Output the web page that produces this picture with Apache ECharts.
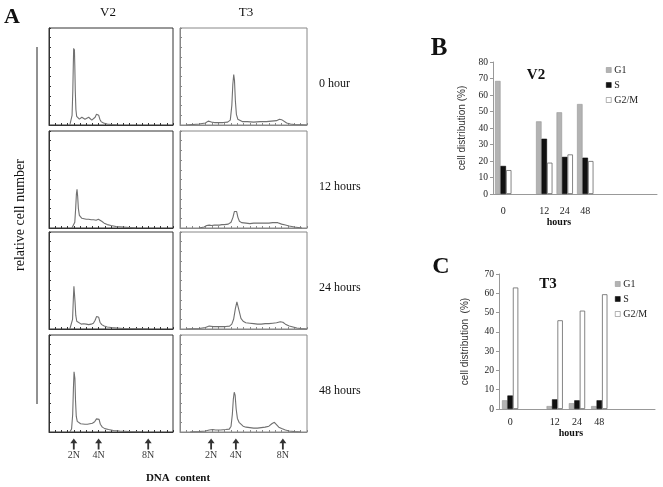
<!DOCTYPE html>
<html><head><meta charset="utf-8">
<script src="https://cdn.jsdelivr.net/npm/echarts@6/dist/echarts.min.js"></script>
<style>html,body{margin:0;padding:0;background:#fff}#c{width:663px;height:487px}</style>
</head><body><div id="c"></div>
<script>
// ---------- Panel A : DNA histograms (x = channel 0-1000, y = % of panel height) ----------
const cellLines = ['V2', 'T3'];
const timeLabels = ['0 hour', '12 hours', '24 hours', '48 hours'];

const v2_0h = [[168,0],[178,2],[186,10],[192,35],[196,62],[199,79],[202,74],[205,78],[208,62],[212,35],[217,16],[223,9],[232,7],[245,6],[255,7],[265,8],[275,7],[290,6],[305,8],[320,8],[335,6],[345,5],[360,6],[372,8],[383,11],[393,12],[401,10],[410,6],[420,3.5],[440,2],[470,1],[500,0.5],[550,0]];
const v2_12h = [[185,0],[198,1],[208,6],[215,20],[221,35],[226,40],[231,33],[237,20],[245,13],[255,11],[265,10],[280,9.5],[300,9],[320,9],[340,8.5],[360,8.5],[380,8],[398,9],[412,9.5],[425,7],[445,5],[470,3.5],[500,2.5],[540,1.5],[600,1],[650,0.5],[700,0]];
const v2_24h = [[168,0],[182,2],[190,10],[196,30],[201,44],[205,42],[210,28],[216,14],[224,8],[238,6],[260,5],[280,5.5],[300,5],[320,4.5],[340,5],[358,6],[372,9],[384,13],[393,14.5],[401,12],[411,7],[425,4.5],[445,3],[470,2],[500,1.5],[550,1],[600,0.5],[700,0.3],[800,0]];
const v2_48h = [[168,0],[182,3],[191,18],[197,45],[202,62],[205,64],[209,55],[214,32],[220,16],[228,11],[240,9],[255,8.5],[270,8],[290,8],[310,8],[330,8.5],[350,9],[368,10.5],[383,13.5],[395,15],[404,13],[414,8],[430,5],[450,3.5],[480,2.5],[520,1.5],[570,1],[650,0.5],[750,0]];

const t3_0h = [[50,0],[150,1],[200,2],[222,4],[235,5.5],[248,3],[270,2.5],[300,2.5],[340,2.5],[375,3],[396,5],[408,20],[416,42],[423,52],[429,46],[436,25],[444,11],[455,6],[470,4],[490,3.5],[530,3.5],[580,3],[630,3.5],[680,3.5],[720,4],[760,4.5],[783,6],[800,5.5],[815,3.5],[840,2],[870,1],[900,0.5],[950,0.3],[1000,0]];
const t3_12h = [[150,0],[190,1],[210,2.5],[230,3],[250,2.5],[270,3],[290,3],[310,3],[330,3.5],[350,3.5],[380,4],[402,6],[417,11],[428,17],[437,19],[446,17],[456,11],[468,7],[485,5.5],[520,5],[550,4.5],[580,5],[610,5],[640,5],[670,5],[700,5],[730,5.5],[770,5.5],[800,4],[830,3],[860,2],[900,1],[930,0.5],[960,0]];
const t3_24h = [[50,0],[150,0.5],[200,1.5],[230,3],[260,2.5],[290,2.5],[320,2.5],[360,2.5],[390,3],[408,5],[422,10],[436,21],[448,28],[457,26],[467,18],[480,11],[497,8],[518,6.5],[550,6],[580,5.5],[610,5],[640,5],[670,5.5],[700,5.5],[730,6],[760,6.5],[790,7.5],[810,7],[830,5],[860,3],[890,2],[920,1],[950,0.5],[1000,0]];
const t3_48h = [[80,0],[150,0.5],[200,1],[230,2],[245,3.5],[258,2.5],[280,2],[320,2],[360,2.5],[388,3],[402,6],[412,18],[420,34],[427,41],[434,38],[442,24],[452,14],[465,10],[480,8],[497,6],[520,5],[550,4.5],[580,4],[610,4],[640,4.5],[670,5],[700,6],[723,8.5],[743,10],[758,8.5],[778,5],[800,3.5],[830,2],[860,1],[900,0.5],[950,0]];

const ploidyLabels = ['2N', '4N', '8N'];
const ploidyV2 = [200, 400, 800];
const ploidyT3 = [245, 440, 810];

// ---------- Panels B and C : cell-cycle distribution ----------
const phases = ['G1', 'S', 'G2/M'];
const hourTicks = ['0', '12', '24', '48'];
const hourSlotsB = ['0', '', '12', '24', '48', '', '', ''];
const hourSlotsC = ['0', '', '12', '24', '48', '', ''];
const v2G1 = [68.5, 44, 49.5, 54.5];
const v2S = [17, 33.5, 22.5, 22];
const v2G2M = [14.5, 19, 24, 20];
const t3G1 = [4.5, 1.5, 3, 1.5];
const t3S = [7, 5, 4.5, 4.5];
const t3G2M = [63, 46, 51, 59.5];

// ---------- build ----------
const SERIF = 'Liberation Serif';
const SANS = 'Liberation Sans';
const chart = echarts.init(document.getElementById('c'), null, {renderer: 'canvas'});

const grid = [], xAxis = [], yAxis = [], series = [];
const histData = [[v2_0h, v2_12h, v2_24h, v2_48h], [t3_0h, t3_12h, t3_24h, t3_48h]];
const colLeft = [49, 180], colW = [124, 127];
const rowTop = [28, 131, 232, 335], rowH = 97;
const colBorder = ['#333', '#888'];

for (let c = 0; c < 2; c++) {
  for (let r = 0; r < 4; r++) {
    const gi = grid.length;
    const col = colBorder[c];
    grid.push({left: colLeft[c], top: rowTop[r], width: colW[c], height: rowH, show: true, borderColor: col, borderWidth: 1, backgroundColor: 'transparent'});
    xAxis.push({gridIndex: gi, type: 'value', min: 0, max: 1000, interval: 50,
      axisLine: {show: true, lineStyle: {color: col, width: 1}},
      axisTick: {show: true, inside: true, length: 2, lineStyle: {color: col}},
      axisLabel: {show: false}, splitLine: {show: false}});
    yAxis.push({gridIndex: gi, type: 'value', min: 0, max: 100, interval: 10,
      axisLine: {show: true, lineStyle: {color: col, width: 1}},
      axisTick: {show: true, inside: true, length: 2, lineStyle: {color: col}},
      axisLabel: {show: false}, splitLine: {show: false}});
    series.push({type: 'line', xAxisIndex: gi, yAxisIndex: gi, data: histData[c][r],
      symbol: 'none', showSymbol: false, silent: true,
      lineStyle: {color: '#707070', width: 1.1}});
  }
}

// ploidy arrows
const arrowPath = 'path://M5,0 L10,7 L6.3,7 L6.3,16 L3.7,16 L3.7,7 L0,7 Z';
[ploidyV2, ploidyT3].forEach((pos, c) => {
  const gi = grid.length;
  grid.push({left: colLeft[c], top: 437, width: colW[c], height: 14});
  xAxis.push({gridIndex: gi, type: 'value', min: 0, max: 1000, show: false});
  yAxis.push({gridIndex: gi, type: 'value', min: 0, max: 1, show: false});
  series.push({type: 'scatter', xAxisIndex: gi, yAxisIndex: gi, silent: true,
    symbol: arrowPath, symbolSize: [7, 11],
    itemStyle: {color: '#000'},
    label: {show: true, position: 'bottom', distance: 1, formatter: '{b}',
      fontFamily: SERIF, fontSize: 10, color: '#000'},
    data: pos.map((x, i) => ({name: ploidyLabels[i], value: [x, 0.5]}))});
});

// bar charts
const phaseStyles = [
  {color: '#b3b3b3', borderColor: '#8a8a8a', borderWidth: 0.5},
  {color: '#111111', borderColor: '#000', borderWidth: 0.5},
  {color: '#ffffff', borderColor: '#666', borderWidth: 0.8}
];
function slotData(slots, vals) {
  const out = slots.map(() => '-');
  hourTicks.forEach((h, i) => { out[slots.indexOf(h)] = vals[i]; });
  return out;
}
function addBarChart(cfg) {
  const gi = grid.length;
  grid.push({left: cfg.left, top: cfg.top, width: cfg.width, height: cfg.height});
  xAxis.push({gridIndex: gi, type: 'category', data: cfg.slots,
    axisLine: {show: true, lineStyle: {color: '#999'}},
    axisTick: {show: false},
    axisLabel: {interval: 0, margin: cfg.labelMargin, fontFamily: SERIF, fontSize: 10, color: '#222'},
    splitLine: {show: false}});
  yAxis.push({gridIndex: gi, type: 'value', min: 0, max: cfg.max, interval: 10,
    name: 'cell distribution ' + cfg.nameGapText + '(%)', nameLocation: 'middle', nameGap: cfg.nameGap, nameRotate: 90,
    nameTextStyle: {fontFamily: SANS, fontSize: 10, color: '#333'},
    axisLine: {show: true, lineStyle: {color: '#999'}},
    axisTick: {show: true, length: 3, lineStyle: {color: '#999'}},
    axisLabel: {margin: 5, fontFamily: SERIF, fontSize: 9.5, color: '#222'},
    splitLine: {show: false}});
  cfg.values.forEach((vals, p) => {
    series.push({type: 'bar', name: phases[p], xAxisIndex: gi, yAxisIndex: gi,
      barGap: '0%', barCategoryGap: cfg.catGap, silent: true,
      itemStyle: phaseStyles[p], data: slotData(cfg.slots, vals)});
  });
}
addBarChart({left: 493, top: 62, width: 164, height: 132, max: 80, slots: hourSlotsB,
  values: [v2G1, v2S, v2G2M], catGap: '20%', labelMargin: 12, nameGap: 26, nameGapText: ''});
addBarChart({left: 499, top: 274, width: 156, height: 135, max: 70, slots: hourSlotsC,
  values: [t3G1, t3S, t3G2M], catGap: '27%', labelMargin: 8, nameGap: 29, nameGapText: ' '});

const legendCommon = {orient: 'vertical', itemWidth: 5, itemHeight: 5, itemGap: 5, selectedMode: false,
  icon: 'rect', data: phases, padding: 0, itemStyle: {borderWidth: 0.5},
  textStyle: {fontFamily: SERIF, fontSize: 10, color: '#222', padding: [0, 0, 0, -2]}};
const legend = [
  Object.assign({}, legendCommon, {left: 606, top: 65}),
  Object.assign({}, legendCommon, {left: 615, top: 279})
];

function txt(text, x, y, font, opts) {
  return Object.assign({type: 'text', x: x, y: y, silent: true,
    style: {text: text, font: font, fill: '#111', align: (opts && opts.align) || 'center', verticalAlign: 'middle'}},
    (opts && opts.extra) || {});
}
const graphic = [
  txt('A', 12, 17, 'bold 22px "' + SERIF + '"'),
  txt(cellLines[0], 108, 13, '13px "' + SERIF + '"'),
  txt(cellLines[1], 246, 13, '13px "' + SERIF + '"'),
  txt('relative cell number', 20, 215, '14px "' + SERIF + '"', {extra: {rotation: Math.PI / 2}}),
  {type: 'line', silent: true, shape: {x1: 37, y1: 47, x2: 37, y2: 404}, style: {stroke: '#222', lineWidth: 1}},
  txt('DNA  content', 178, 478, 'bold 11px "' + SERIF + '"'),
  txt('B', 439, 49, 'bold 25px "' + SERIF + '"'),
  txt('C', 441, 267, 'bold 24px "' + SERIF + '"'),
  txt(cellLines[0], 536, 75, 'bold 15px "' + SERIF + '"'),
  txt(cellLines[1], 548, 284, 'bold 15px "' + SERIF + '"'),
  txt('hours', 559, 222, 'bold 10px "' + SERIF + '"'),
  txt('hours', 571, 433, 'bold 10px "' + SERIF + '"')
];
timeLabels.forEach((t, r) => {
  graphic.push(txt(t, 319, rowTop[r] + 56, '12px "' + SERIF + '"', {align: 'left'}));
});

chart.setOption({animation: false, backgroundColor: '#fff', grid, xAxis, yAxis, series, legend, graphic});
</script></body></html>
